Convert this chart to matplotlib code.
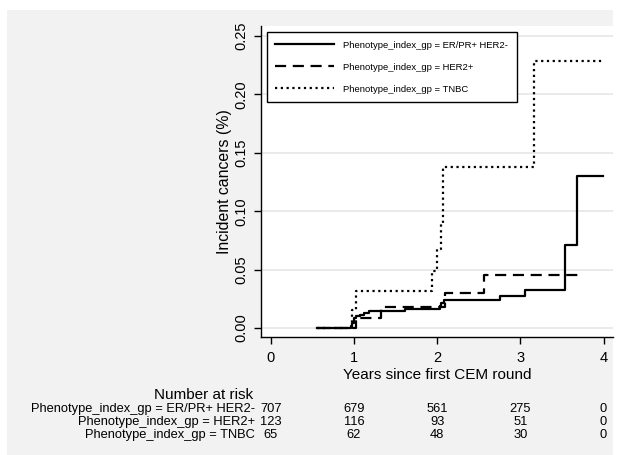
import numpy as np
import matplotlib
matplotlib.use("Agg")
import matplotlib.pyplot as plt
from matplotlib.patches import Rectangle
from matplotlib.transforms import blended_transform_factory

plt.rcParams['font.family'] = ['Liberation Sans', 'DejaVu Sans']

# step curves (time in years, cumulative incidence)
er_t = [0.55, 0.96, 0.98, 1.0, 1.03, 1.07, 1.12, 1.18, 1.61, 2.03, 2.05, 2.08, 2.75, 3.06, 3.54, 3.68, 3.99]
er_y = [0.0, 0.0014, 0.0043, 0.0086, 0.0101, 0.0115, 0.013, 0.0146, 0.0163, 0.0189, 0.0215, 0.0241, 0.0272, 0.0327, 0.0713, 0.13, 0.13]
her2_t = [0.55, 1.03, 1.33, 2.09, 2.56, 3.72]
her2_y = [0.0, 0.0083, 0.0178, 0.0298, 0.0458, 0.0458]
tnbc_t = [0.55, 0.98, 1.03, 1.935, 1.995, 2.045, 2.075, 3.16, 3.98]
tnbc_y = [0.0, 0.0154, 0.0317, 0.049, 0.068, 0.09, 0.138, 0.229, 0.229]

labels = ["Phenotype_index_gp = ER/PR+ HER2-",
          "Phenotype_index_gp = HER2+",
          "Phenotype_index_gp = TNBC"]
risk_times = [0, 1, 2, 3, 4]
risk_er = [707, 679, 561, 275, 0]
risk_her2 = [123, 116, 93, 51, 0]
risk_tnbc = [65, 62, 48, 30, 0]

W, H = 625, 455
fig = plt.figure(figsize=(6.25, 4.55), dpi=100)
fig.patch.set_facecolor("white")
# grey panel behind everything
panel = Rectangle((7 / W, 0), (613 - 7) / W, (455 - 10) / H,
                  transform=fig.transFigure, facecolor="#f2f2f2",
                  edgecolor="none", zorder=-10)
fig.add_artist(panel)

ax = fig.add_axes([261 / W, (H - 337) / H, (613 - 261) / W, (337 - 26) / H])
ax.set_facecolor("white")

ax.plot(er_t, er_y, drawstyle="steps-post", color="black", lw=1.6, linestyle="-", label=labels[0])
ax.plot(her2_t, her2_y, drawstyle="steps-post", color="black", lw=1.6, linestyle=(0, (5, 3)), label=labels[1])
ax.plot(tnbc_t, tnbc_y, drawstyle="steps-post", color="black", lw=1.6, linestyle=(0, (1, 1.6)), label=labels[2])

ax.set_xlim(-0.117, 4.113)
ax.set_ylim(-0.0077, 0.2586)
ax.set_xticks([0, 1, 2, 3, 4])
ax.set_yticks([0, 0.05, 0.10, 0.15, 0.20, 0.25])
ax.set_yticklabels(["0.00", "0.05", "0.10", "0.15", "0.20", "0.25"], rotation=90, va="center")
ax.tick_params(axis="both", direction="out", length=5, width=1, labelsize=10.5, color="black")
ax.tick_params(axis="x", pad=5)
ax.tick_params(axis="y", pad=4)
ax.grid(axis="y", color="#eaeaea", lw=1.4)
ax.set_axisbelow(True)
for s in ["top", "right"]:
    ax.spines[s].set_visible(False)
for s in ["left", "bottom"]:
    ax.spines[s].set_linewidth(1)
ax.set_xlabel("Years since first CEM round", fontsize=11, labelpad=2)
ax.set_ylabel("Incident cancers (%)", fontsize=11.4, labelpad=2)

leg = ax.legend(loc="upper left", bbox_to_anchor=(0.016, 0.98), borderaxespad=0,
                fontsize=6.8, handlelength=6.2, labelspacing=1.38, fancybox=False,
                framealpha=1, edgecolor="black", borderpad=0.9, handletextpad=1.0)
leg.get_frame().set_linewidth(1)

# number at risk table
tr = blended_transform_factory(ax.transData, fig.transFigure)
fig.text(-0.81, (H - 395) / H, "Number at risk", transform=tr, ha="center", va="center", fontsize=11)
rows = [risk_er, risk_her2, risk_tnbc]
ys = [409, 422, 435]
for lab, row, yp in zip(labels, rows, ys):
    fig.text(-0.19, (H - yp) / H, lab, transform=tr, ha="right", va="center", fontsize=9.3)
    for t, n in zip(risk_times, row):
        fig.text(t, (H - yp) / H, str(n), transform=tr, ha="center", va="center", fontsize=9.3)

plt.savefig("out.png", dpi=100)
